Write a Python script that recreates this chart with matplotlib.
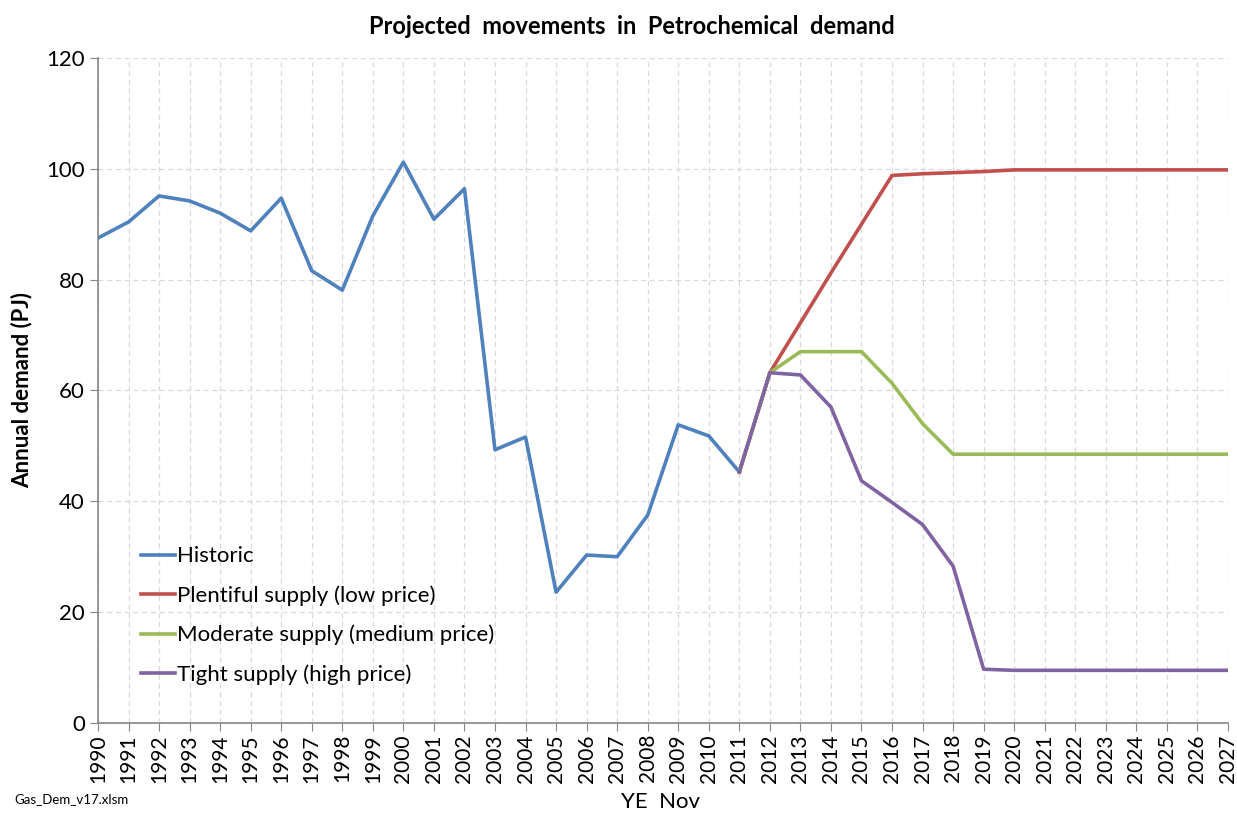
import numpy as np
import matplotlib
matplotlib.use('Agg')
import matplotlib.pyplot as plt

plt.rcParams['font.family'] = ['Lato', 'DejaVu Sans']

# data
hist_years = list(range(1990, 2012))
historic = [87.5, 90.4, 95.1, 94.2, 92.0, 88.8, 94.7, 81.6, 78.1, 91.5,
            101.2, 90.9, 96.4, 49.3, 51.6, 23.6, 30.3, 30.0, 37.5, 53.8,
            51.8, 45.3]

proj_years = list(range(2011, 2028))
plentiful = [45.3, 63.2, 72.2, 81.2, 90.0, 98.8, 99.1, 99.3, 99.5, 99.8,
             99.8, 99.8, 99.8, 99.8, 99.8, 99.8, 99.8]
moderate = [45.3, 63.2, 67.0, 67.0, 67.0, 61.3, 54.0, 48.5, 48.5, 48.5,
            48.5, 48.5, 48.5, 48.5, 48.5, 48.5, 48.5]
tight = [45.3, 63.2, 62.8, 57.0, 43.7, 39.8, 35.8, 28.3, 9.7, 9.5,
         9.5, 9.5, 9.5, 9.5, 9.5, 9.5, 9.5]

labels = ['Historic', 'Plentiful supply (low price)',
          'Moderate supply (medium price)', 'Tight supply (high price)']
colors = ['#4F81BD', '#C0504D', '#9BBB59', '#8064A2']

fig = plt.figure(figsize=(12.37, 8.16), dpi=100)
ax = fig.add_axes([0.0792, 0.114, 0.9135, 0.815])

ax.plot(hist_years, historic, color=colors[0], lw=2.6, label=labels[0])
ax.plot(proj_years, plentiful, color=colors[1], lw=2.6, label=labels[1])
ax.plot(proj_years, moderate, color=colors[2], lw=2.6, label=labels[2])
ax.plot(proj_years, tight, color=colors[3], lw=2.6, label=labels[3])

ax.set_xlim(1990, 2027)
ax.set_ylim(0, 120)
ax.set_xticks(range(1990, 2028))
ax.set_xticklabels([str(y) for y in range(1990, 2028)], rotation=90, fontsize=15)
ax.set_yticks(range(0, 121, 20))
ax.tick_params(axis='y', labelsize=16, length=6, color='#868686', direction='out')
ax.tick_params(axis='x', length=6, color='#868686', direction='out', pad=2)

ax.grid(True, color='#D9D9D9', linestyle=(0, (4, 3)), linewidth=0.9)
ax.set_axisbelow(True)
for s in ['top', 'right']:
    ax.spines[s].set_visible(False)
for s in ['left', 'bottom']:
    ax.spines[s].set_color('#868686')
    ax.spines[s].set_linewidth(1.2)

ax.set_ylabel('Annual demand (PJ)', fontsize=16, fontweight='bold', labelpad=10)
fig.text(0.534, 0.005, 'YE  Nov', fontsize=16, ha='center', va='bottom')
fig.text(0.511, 0.968, 'Projected  movements  in  Petrochemical  demand',
         fontsize=17, fontweight='bold', ha='center', va='center')
fig.text(0.012, 0.014, 'Gas_Dem_v17.xlsm', fontsize=9.5, ha='left', va='bottom')

ax.legend(loc='upper left', bbox_to_anchor=(0.03, 0.279), frameon=False,
          fontsize=16, handlelength=1.55, handletextpad=0.1, labelspacing=0.85,
          borderaxespad=0)

plt.savefig('out.png', dpi=100)
plt.close()
